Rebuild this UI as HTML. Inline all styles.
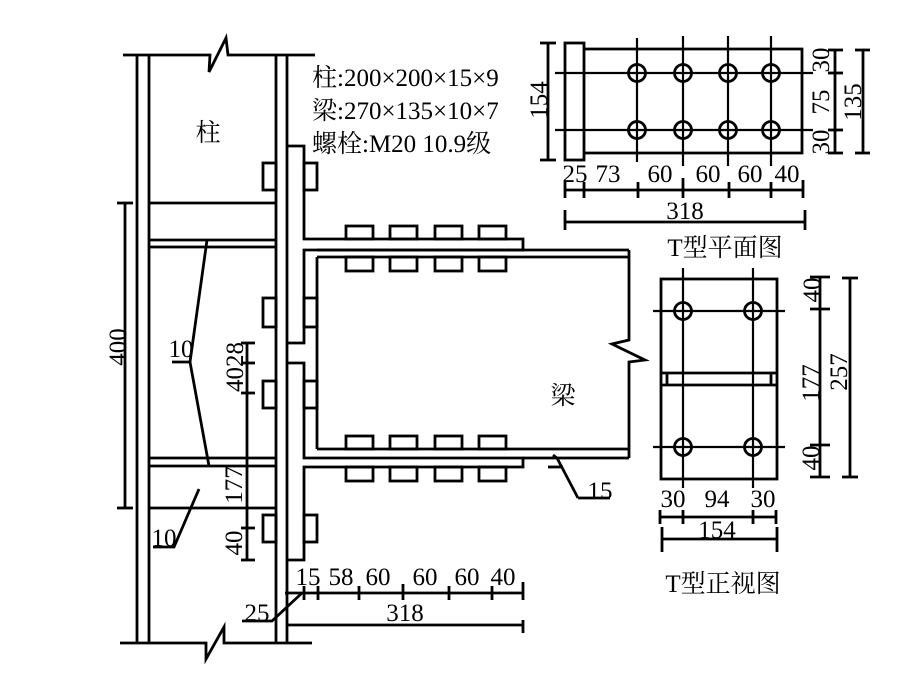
<!DOCTYPE html>
<html><head><meta charset="utf-8"><style>
html,body{margin:0;padding:0;background:#fff;}
svg{display:block;}
text{font-family:"Liberation Serif","Noto Serif CJK SC","Noto Sans CJK SC",serif;font-size:25px;fill:#000;}
</style></head><body>
<svg width="919" height="677" viewBox="0 0 919 677" xmlns="http://www.w3.org/2000/svg">
<g fill="none" stroke="#000" stroke-width="2.8">
<polyline points="123,55 210,55 209,72 226,38 228,55 315,55"/>
<polyline points="120,643 206,643 206,659 224,627 224,643 312,643"/>
<line x1="137" y1="55" x2="137" y2="643"/><line x1="149" y1="55" x2="149" y2="643"/>
<line x1="276" y1="55" x2="276" y2="643"/><line x1="287" y1="55" x2="287" y2="643"/>
<line x1="149" y1="203" x2="276" y2="203"/>
<line x1="149" y1="240" x2="276" y2="240"/><line x1="149" y1="247" x2="276" y2="247"/>
<line x1="149" y1="458" x2="276" y2="458"/><line x1="149" y1="466" x2="276" y2="466"/>
<line x1="149" y1="508" x2="276" y2="508"/>
<polyline points="287,146 304,146 304,239 523,239 523,250 304,250 304,343 287,343"/>
<polyline points="287,363 304,363 304,458 523,458 523,467 304,467 304,560 287,560"/>
<line x1="317" y1="250" x2="629" y2="250"/>
<line x1="317" y1="257" x2="629" y2="257"/>
<line x1="317" y1="257" x2="317" y2="449"/>
<line x1="317" y1="449" x2="629" y2="449"/>
<line x1="523" y1="458" x2="629" y2="458"/>
<polyline points="629,250 629,340 612,344 645,360 629,362 629,458"/>
<rect x="263" y="163" width="13" height="27"/><rect x="304" y="163" width="13" height="27"/>
<rect x="263" y="298" width="13" height="29"/><rect x="304" y="298" width="13" height="29"/>
<rect x="263" y="381" width="13" height="27"/><rect x="304" y="381" width="13" height="27"/>
<rect x="263" y="515" width="13" height="27"/><rect x="304" y="515" width="13" height="27"/>
<rect x="346" y="226" width="27" height="13"/><rect x="390" y="226" width="27" height="13"/><rect x="435" y="226" width="27" height="13"/><rect x="479" y="226" width="27" height="13"/>
<rect x="346" y="257" width="27" height="14"/><rect x="390" y="257" width="27" height="14"/><rect x="435" y="257" width="27" height="14"/><rect x="479" y="257" width="27" height="14"/>
<rect x="346" y="436" width="27" height="13"/><rect x="390" y="436" width="27" height="13"/><rect x="435" y="436" width="27" height="13"/><rect x="479" y="436" width="27" height="13"/>
<rect x="346" y="467" width="27" height="14"/><rect x="390" y="467" width="27" height="14"/><rect x="435" y="467" width="27" height="14"/><rect x="479" y="467" width="27" height="14"/>
<line x1="125" y1="203" x2="125" y2="508"/>
<line x1="117" y1="203" x2="133" y2="203"/><line x1="117" y1="508" x2="133" y2="508"/>
<line x1="247" y1="343" x2="247" y2="560"/>
<line x1="241" y1="343" x2="255" y2="343"/><line x1="241" y1="363" x2="255" y2="363"/><line x1="241" y1="393" x2="255" y2="393"/><line x1="241" y1="528" x2="255" y2="528"/><line x1="241" y1="560" x2="255" y2="560"/>
<polyline points="207,240 190,362 209,466"/><line x1="172" y1="362" x2="190" y2="362"/>
<polyline points="199,489 174,547 153,547"/>
<polyline points="578,498 557,458 553,455"/><line x1="578" y1="498" x2="610" y2="498"/><line x1="548" y1="467" x2="563" y2="467"/>
<polyline points="302,593 272,621 242,621"/>
<line x1="285" y1="593" x2="523" y2="593"/>
<line x1="304" y1="586" x2="304" y2="600"/><line x1="318" y1="586" x2="318" y2="600"/><line x1="359" y1="586" x2="359" y2="600"/><line x1="403" y1="584" x2="403" y2="600"/><line x1="449" y1="586" x2="449" y2="600"/><line x1="492" y1="586" x2="492" y2="600"/><line x1="523" y1="582" x2="523" y2="600"/>
<line x1="286" y1="625" x2="523" y2="625"/><line x1="523" y1="620" x2="523" y2="633"/>
<rect x="565" y="43" width="19" height="117"/>
<polyline points="584,49 802,49 802,153 584,153"/>
<g stroke-width="2.2">
<line x1="637" y1="38" x2="637" y2="162"/><line x1="683" y1="36" x2="683" y2="166"/><line x1="728" y1="36" x2="728" y2="166"/><line x1="771" y1="36" x2="771" y2="166"/>
<line x1="555" y1="73" x2="813" y2="73"/><line x1="555" y1="130" x2="813" y2="130"/>
</g>
<circle cx="637" cy="73" r="8.5"/><circle cx="683" cy="73" r="8.5"/><circle cx="728" cy="73" r="8.5"/><circle cx="771" cy="73" r="8.5"/>
<circle cx="637" cy="130" r="8.5"/><circle cx="683" cy="130" r="8.5"/><circle cx="728" cy="130" r="8.5"/><circle cx="771" cy="130" r="8.5"/>
<line x1="548" y1="43" x2="548" y2="160"/><line x1="540" y1="43" x2="556" y2="43"/><line x1="540" y1="160" x2="556" y2="160"/>
<line x1="835" y1="50" x2="835" y2="153"/>
<line x1="828" y1="50" x2="843" y2="50"/><line x1="828" y1="73" x2="843" y2="73"/><line x1="828" y1="130" x2="843" y2="130"/><line x1="828" y1="153" x2="843" y2="153"/>
<line x1="863" y1="50" x2="863" y2="153"/><line x1="855" y1="50" x2="870" y2="50"/><line x1="855" y1="153" x2="870" y2="153"/>
<line x1="565" y1="190" x2="803" y2="190"/>
<line x1="565" y1="182" x2="565" y2="198"/><line x1="584" y1="182" x2="584" y2="198"/><line x1="638" y1="182" x2="638" y2="198"/><line x1="683" y1="178" x2="683" y2="198"/><line x1="729" y1="182" x2="729" y2="198"/><line x1="771" y1="182" x2="771" y2="198"/><line x1="803" y1="180" x2="803" y2="198"/>
<line x1="565" y1="222" x2="805" y2="222"/><line x1="565" y1="210" x2="565" y2="230"/><line x1="805" y1="210" x2="805" y2="230"/>
<rect x="661" y="279" width="116" height="200"/>
<line x1="661" y1="373" x2="777" y2="373"/><line x1="661" y1="385" x2="777" y2="385"/>
<line x1="667" y1="373" x2="667" y2="385"/><line x1="771" y1="373" x2="771" y2="385"/>
<g stroke-width="2.2">
<line x1="683" y1="268" x2="683" y2="488"/><line x1="753" y1="268" x2="753" y2="488"/>
<line x1="653" y1="311" x2="785" y2="311"/><line x1="653" y1="447" x2="785" y2="447"/>
</g>
<circle cx="683" cy="311" r="8.5"/><circle cx="753" cy="311" r="8.5"/><circle cx="683" cy="447" r="8.5"/><circle cx="753" cy="447" r="8.5"/>
<line x1="820" y1="277" x2="820" y2="478"/>
<line x1="810" y1="277" x2="830" y2="277"/><line x1="810" y1="309" x2="830" y2="309"/><line x1="810" y1="445" x2="830" y2="445"/><line x1="810" y1="477" x2="830" y2="477"/>
<line x1="850" y1="278" x2="850" y2="477"/><line x1="842" y1="278" x2="858" y2="278"/><line x1="842" y1="477" x2="858" y2="477"/>
<line x1="660" y1="517" x2="777" y2="517"/>
<line x1="660" y1="510" x2="660" y2="524"/><line x1="683" y1="510" x2="683" y2="524"/><line x1="753" y1="510" x2="753" y2="524"/><line x1="776" y1="510" x2="776" y2="524"/>
<line x1="662" y1="539" x2="777" y2="539"/><line x1="662" y1="527" x2="662" y2="552"/><line x1="777" y1="527" x2="777" y2="552"/>
</g>
<text x="208" y="141" text-anchor="middle">柱</text>
<text x="312" y="86">柱:200×200×15×9</text>
<text x="312" y="119">梁:270×135×10×7</text>
<text x="312" y="152">螺栓:M20 10.9级</text>
<text x="563" y="404" text-anchor="middle">梁</text>
<text transform="translate(126,347) rotate(-90)" text-anchor="middle">400</text>
<text x="181" y="357" text-anchor="middle">10</text>
<text x="164" y="546" text-anchor="middle">10</text>
<text transform="translate(243,367) rotate(-90)" text-anchor="middle">4028</text>
<text transform="translate(242,485) rotate(-90)" text-anchor="middle">177</text>
<text transform="translate(242,543) rotate(-90)" text-anchor="middle">40</text>
<text x="600" y="499" text-anchor="middle">15</text>
<text x="308" y="585" text-anchor="middle">15</text>
<text x="341" y="585" text-anchor="middle">58</text>
<text x="378" y="585" text-anchor="middle">60</text>
<text x="425" y="585" text-anchor="middle">60</text>
<text x="467" y="585" text-anchor="middle">60</text>
<text x="503" y="585" text-anchor="middle">40</text>
<text x="257" y="621" text-anchor="middle">25</text>
<text x="405" y="621" text-anchor="middle">318</text>
<text transform="translate(547,100) rotate(-90)" text-anchor="middle">154</text>
<text transform="translate(829,60) rotate(-90)" text-anchor="middle">30</text>
<text transform="translate(829,102) rotate(-90)" text-anchor="middle">75</text>
<text transform="translate(829,142) rotate(-90)" text-anchor="middle">30</text>
<text transform="translate(861,102) rotate(-90)" text-anchor="middle">135</text>
<text x="575" y="182" text-anchor="middle">25</text>
<text x="608" y="182" text-anchor="middle">73</text>
<text x="660" y="182" text-anchor="middle">60</text>
<text x="708" y="182" text-anchor="middle">60</text>
<text x="750" y="182" text-anchor="middle">60</text>
<text x="787" y="182" text-anchor="middle">40</text>
<text x="685" y="219" text-anchor="middle">318</text>
<text x="725" y="256" text-anchor="middle">T型平面图</text>
<text transform="translate(820,290) rotate(-90)" text-anchor="middle">40</text>
<text transform="translate(819,383) rotate(-90)" text-anchor="middle">177</text>
<text transform="translate(819,458) rotate(-90)" text-anchor="middle">40</text>
<text transform="translate(847,372) rotate(-90)" text-anchor="middle">257</text>
<text x="673" y="507" text-anchor="middle">30</text>
<text x="717" y="507" text-anchor="middle">94</text>
<text x="763" y="507" text-anchor="middle">30</text>
<text x="717" y="538" text-anchor="middle">154</text>
<text x="723" y="592" text-anchor="middle">T型正视图</text>
</svg>
</body></html>
